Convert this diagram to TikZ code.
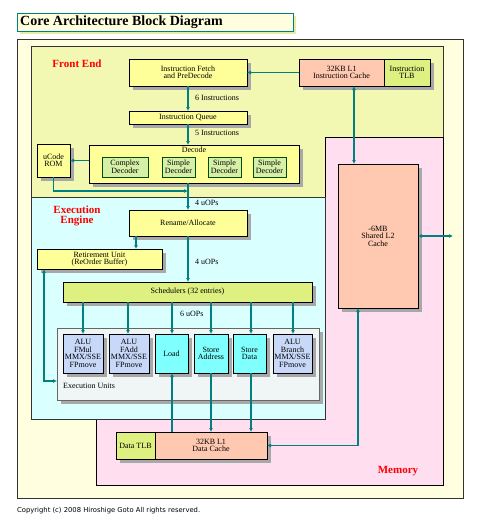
\documentclass[tikz,border=0pt]{standalone}
\usepackage{fontspec}
\setmainfont{Liberation Serif}
\newfontfamily\cpfont{DejaVu Sans}
\usetikzlibrary{shadows,arrows.meta}
\definecolor{outerfill}{RGB}{255,255,224}
\definecolor{fefill}{RGB}{242,248,178}
\definecolor{exfill}{RGB}{218,255,255}
\definecolor{memfill}{RGB}{255,222,240}
\definecolor{boxyellow}{RGB}{255,255,153}
\definecolor{salmon}{RGB}{255,200,176}
\definecolor{tlbgreen}{RGB}{222,240,128}
\definecolor{decgreen}{RGB}{214,240,168}
\definecolor{lavender}{RGB}{200,216,248}
\definecolor{unitcyan}{RGB}{128,255,255}
\definecolor{eucfill}{RGB}{240,245,245}
\definecolor{arrowc}{RGB}{0,128,128}
\definecolor{shadowgray}{RGB}{168,168,168}
\definecolor{titleshadow}{RGB}{228,238,170}
\definecolor{redlabel}{RGB}{255,0,0}
\begin{document}
\begin{tikzpicture}[x=1pt,y=-1pt,
  box/.style={draw=black, line width=0.7pt, inner sep=0pt, outer sep=0pt, align=center,
    font=\fontsize{8}{7.5}\selectfont,
    general shadow={fill=shadowgray, shadow xshift=4pt, shadow yshift=-4pt}},
  ybox/.style={box, fill=boxyellow},
  sbox/.style={box, fill=salmon},
  gbox/.style={box, fill=tlbgreen},
  lbox/.style={box, fill=lavender},
  cbox/.style={box, fill=unitcyan},
  decbox/.style={draw=black!70!green, line width=0.6pt, fill=decgreen, inner sep=0pt, outer sep=0pt,
    align=center, font=\fontsize{8}{7.5}\selectfont},
  region/.style={draw=black!80, line width=0.7pt, inner sep=0pt, outer sep=0pt},
  rlabel/.style={text=redlabel, font=\fontsize{11}{10.5}\selectfont\bfseries, align=center},
  lbl/.style={font=\fontsize{8}{7.5}\selectfont, anchor=west, inner sep=0pt},
  arr/.style={draw=arrowc, line width=1.5pt, -{Latex[length=4pt,width=4pt]}},
  barr/.style={draw=arrowc, line width=1.5pt, {Latex[length=4pt,width=4pt]}-{Latex[length=4pt,width=4pt]}}
]
\useasboundingbox (0,0) rectangle (480,531);
\fill[white] (0,0) rectangle (480,531);

% title
\node[draw=arrowc, line width=0.9pt, fill=outerfill, minimum width=276pt, minimum height=18pt,
  inner sep=0pt, outer sep=0pt, general shadow={fill=titleshadow, shadow xshift=3pt, shadow yshift=-3pt}]
  (title) at (155,22) {};
\node[anchor=west, inner sep=0pt, font=\fontsize{14}{14}\selectfont\bfseries] (titletext) at (20,22) {Core Architecture Block Diagram};

% regions
\node[region, fill=outerfill, minimum width=446pt, minimum height=459pt] (outer) at (240,268.5) {};
\node[region, fill=fefill, minimum width=412pt, minimum height=151pt] (fe) at (237,121.5) {};
\draw[fill=memfill, line width=0.7pt] (325,137) -- (443,137) -- (443,485) -- (96,485) -- (96,419) -- (325,419) -- cycle;
\node[region, fill=exfill, minimum width=294pt, minimum height=222pt] (ex) at (178,308) {};

\node[rlabel] (felbl) at (77,64) {Front End};
\node[rlabel] (exlbl) at (77,216) {Execution\\Engine};
\node[rlabel] (memlbl) at (398,471) {Memory};

% front end
\node[ybox, minimum width=118pt, minimum height=27pt] (fetch) at (188,72.5) {Instruction Fetch\\and PreDecode};
\node[sbox, minimum width=85pt, minimum height=27pt] (icache) at (341.5,72.5) {32KB L1\\Instruction Cache};
\node[gbox, minimum width=46pt, minimum height=27pt] (itlb) at (407,72.5) {Instruction\\TLB};
\node[ybox, minimum width=118pt, minimum height=13pt] (iqueue) at (188,117.5) {Instruction Queue};
\node[ybox, minimum width=210pt, minimum height=38pt] (decode) at (194,164) {};
\node[font=\fontsize{8}{7.5}\selectfont, inner sep=0pt] (decodelbl) at (194,149.5) {Decode};
\node[decbox, minimum width=46pt, minimum height=20pt] (cdec) at (125,167) {Complex\\Decoder};
\node[decbox, minimum width=33pt, minimum height=20pt] (sdec1) at (178.5,167) {Simple\\Decoder};
\node[decbox, minimum width=33pt, minimum height=20pt] (sdec2) at (224.5,167) {Simple\\Decoder};
\node[decbox, minimum width=33pt, minimum height=20pt] (sdec3) at (269.5,167) {Simple\\Decoder};
\node[ybox, minimum width=33pt, minimum height=33pt] (ucode) at (53.5,160.5) {uCode\\ROM};

% L2
\node[sbox, minimum width=80pt, minimum height=144pt] (l2) at (378,236) {-6MB\\Shared L2\\Cache};

% execution engine
\node[ybox, minimum width=118pt, minimum height=26pt] (rename) at (188,223) {Rename/Allocate};
\node[ybox, minimum width=125pt, minimum height=20pt] (retire) at (99.5,259) {Retirement Unit\\(ReOrder Buffer)};
\node[gbox, minimum width=249pt, minimum height=20pt] (sched) at (187.5,292) {Schedulers (32 entries)};
\node[draw=black!60, line width=0.7pt, fill=eucfill, minimum width=262pt, minimum height=72pt, inner sep=0pt, outer sep=0pt,
  general shadow={fill=shadowgray, shadow xshift=4pt, shadow yshift=-4pt}] (euc) at (188,364) {};
\node[lbl] (euclbl) at (63,386) {Execution Units};

\node[lbox, minimum width=40pt, minimum height=39pt] (alu1) at (83,353.5) {ALU\\FMul\\MMX/SSE\\FPmove};
\node[lbox, minimum width=40pt, minimum height=39pt] (alu2) at (129,353.5) {ALU\\FAdd\\MMX/SSE\\FPmove};
\node[cbox, minimum width=33pt, minimum height=39pt] (load) at (171.5,353.5) {Load};
\node[cbox, minimum width=34pt, minimum height=39pt] (staddr) at (211,353.5) {Store\\Address};
\node[cbox, minimum width=33pt, minimum height=39pt] (stdata) at (249.5,353.5) {Store\\Data};
\node[lbox, minimum width=39pt, minimum height=39pt] (alu3) at (292.5,353.5) {ALU\\Branch\\MMX/SSE\\FPmove};

% data cache
\node[gbox, minimum width=39pt, minimum height=27pt] (dtlb) at (135.5,445.5) {Data TLB};
\node[sbox, minimum width=112pt, minimum height=27pt] (dcache) at (211,445.5) {32KB L1\\Data Cache};

% labels
\node[lbl] (l6i) at (195,98) {6 Instructions};
\node[lbl] (l5i) at (195,133) {5 Instructions};
\node[lbl] (l4u1) at (195,203) {4 uOPs};
\node[lbl] (l4u2) at (195,262) {4 uOPs};
\node[lbl] (l6u) at (180,314) {6 uOPs};
\node[anchor=west, inner sep=0pt, font=\cpfont\fontsize{6.8}{7}\selectfont] (copy) at (17,511) {Copyright (c) 2008 Hiroshige Goto All rights reserved.};

% coordinates
\coordinate (merge) at (188,191);
\coordinate (icx) at (354,0);
\coordinate (l2out) at (453,236);
\coordinate (l2d) at (358,446);
\coordinate (rrx) at (136,0);
\coordinate (retx) at (44,381);
\coordinate (x1) at (83,0);
\coordinate (x2) at (128,0);
\coordinate (x3) at (172,0);
\coordinate (x4) at (211,0);
\coordinate (x5) at (251,0);
\coordinate (x6) at (293,0);

% connectors
\draw[arr] (icache.west) -- (fetch.east);
\draw[arr] (fetch.south) -- (iqueue.north);
\draw[arr] (iqueue.south) -- (iqueue.south |- decode.north);
\draw[arr] (decode.west |- ucode.east) -- (ucode.east);
\draw[arr] (ucode.south) |- (merge);
\draw[arr] (merge |- decode.south) -- (merge |- rename.north);
\draw[barr] (icache.south -| icx) -- (l2.north -| icx);
\draw[barr] (l2.east) -- (l2out);
\draw[barr] (l2.south -| l2d) |- (dcache.east);
\draw[arr] (rename.south -| rrx) -- (retire.north -| rrx);
\draw[arr] (rename.south) -- (rename.south |- sched.north);
\draw[arr] (sched.south -| x1) -- (alu1.north -| x1);
\draw[arr] (sched.south -| x2) -- (alu2.north -| x2);
\draw[arr] (sched.south -| x3) -- (load.north -| x3);
\draw[arr] (sched.south -| x4) -- (staddr.north -| x4);
\draw[arr] (sched.south -| x5) -- (stdata.north -| x5);
\draw[arr] (sched.south -| x6) -- (alu3.north -| x6);
\draw[barr] (retire.south -| retx) |- (euc.west |- retx);
\draw[arr] (dcache.north -| x3) -- (load.south -| x3);
\draw[arr] (staddr.south -| x4) -- (dcache.north -| x4);
\draw[arr] (stdata.south -| x5) -- (dcache.north -| x5);
\end{tikzpicture}
\end{document}
